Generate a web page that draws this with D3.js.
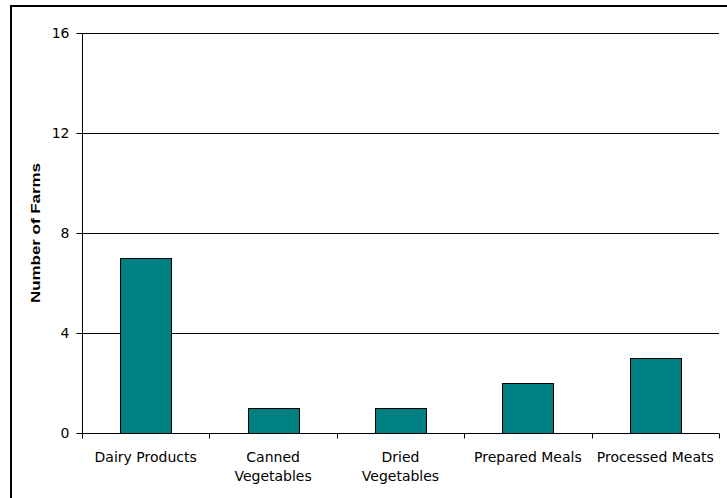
<!DOCTYPE html>
<html><head><meta charset="utf-8">
<script src="https://cdn.jsdelivr.net/npm/d3@7"></script>
<style>body{margin:0;background:#fff;overflow:hidden}svg{display:block}</style>
</head><body>
<svg id="c" width="727" height="498"></svg>
<script>
const categories = [["Dairy Products"], ["Canned", "Vegetables"], ["Dried", "Vegetables"], ["Prepared Meals"], ["Processed Meats"]];
const values = [7, 1, 1, 2, 3];
const yTicks = [0, 4, 8, 12, 16];
const yTitle = "Number of Farms";

const svg = d3.select("#c");
const W = 727, H = 498;
const m = {left: 82, right: 8, top: 33, bottom: 65};

svg.append("rect").attr("x", 11).attr("y", 6).attr("width", W + 20).attr("height", H + 20)
  .attr("fill", "#fff").attr("stroke", "#000").attr("stroke-width", 2);

const keys = categories.map(c => c.join(" "));
const x = d3.scaleBand().domain(keys).range([m.left, W - m.right]).paddingInner(0.6).paddingOuter(0.3);
const xb = d3.scaleBand().domain(keys).range([m.left, W - m.right]);
const y = d3.scaleLinear().domain([0, 16]).range([H - m.bottom, m.top]);

// gridlines
svg.append("g").selectAll("line").data(yTicks.filter(t => t > 0)).join("line")
  .attr("x1", m.left).attr("x2", W - m.right)
  .attr("y1", d => Math.round(y(d)) + 0.5).attr("y2", d => Math.round(y(d)) + 0.5)
  .attr("stroke", "#000").attr("stroke-width", 1);

// bars
svg.append("g").selectAll("rect").data(values).join("rect")
  .attr("x", (d, i) => Math.round(x(keys[i])) + 0.5)
  .attr("y", d => Math.round(y(d)) + 0.5)
  .attr("width", Math.round(x.bandwidth()))
  .attr("height", d => Math.round(y(0)) - Math.round(y(d)))
  .attr("fill", "#008080").attr("stroke", "#000").attr("stroke-width", 1);

// y axis
const yAxis = svg.append("g").attr("transform", `translate(${m.left + 0.5},0)`)
  .call(d3.axisLeft(y).tickValues(yTicks).tickSize(6).tickPadding(7).tickFormat(d3.format("d")));
yAxis.select(".domain").attr("d", `M0,${m.top}V${H - m.bottom}`);
yAxis.selectAll("text").attr("font-family", "DejaVu Sans, Verdana, sans-serif").attr("font-size", 14).attr("fill", "#000");
yAxis.selectAll("line").attr("stroke", "#000");

// x axis
const xAxis = svg.append("g").attr("transform", `translate(0,${Math.round(y(0)) + 0.5})`);
xAxis.append("line").attr("x1", m.left).attr("x2", W - m.right).attr("stroke", "#000");
const bounds = keys.map(k => xb(k)).concat([W - m.right]);
xAxis.selectAll("line.tk").data(bounds).join("line").attr("class", "tk")
  .attr("x1", d => Math.round(d) + 0.5).attr("x2", d => Math.round(d) + 0.5)
  .attr("y1", 0).attr("y2", 5).attr("stroke", "#000");
const lbl = xAxis.selectAll("text").data(categories).join("text")
  .attr("x", (d, i) => xb(keys[i]) + xb.bandwidth() / 2)
  .attr("y", 28)
  .attr("text-anchor", "middle")
  .attr("font-family", "DejaVu Sans, Verdana, sans-serif").attr("font-size", 14).attr("fill", "#000");
lbl.selectAll("tspan").data(d => d).join("tspan")
  .attr("x", function() { return this.parentNode.getAttribute("x"); })
  .attr("dy", (d, i) => i === 0 ? 0 : 19)
  .text(d => d);

// y title
svg.append("text")
  .attr("transform", `translate(40,${(y(0) + y(16)) / 2}) rotate(-90)`)
  .attr("x", -70)
  .attr("textLength", 140).attr("lengthAdjust", "spacingAndGlyphs")
  .attr("font-family", "Liberation Sans, Arial, sans-serif").attr("font-weight", "bold").attr("font-size", 13.5)
  .text(yTitle);
</script>
</body></html>
